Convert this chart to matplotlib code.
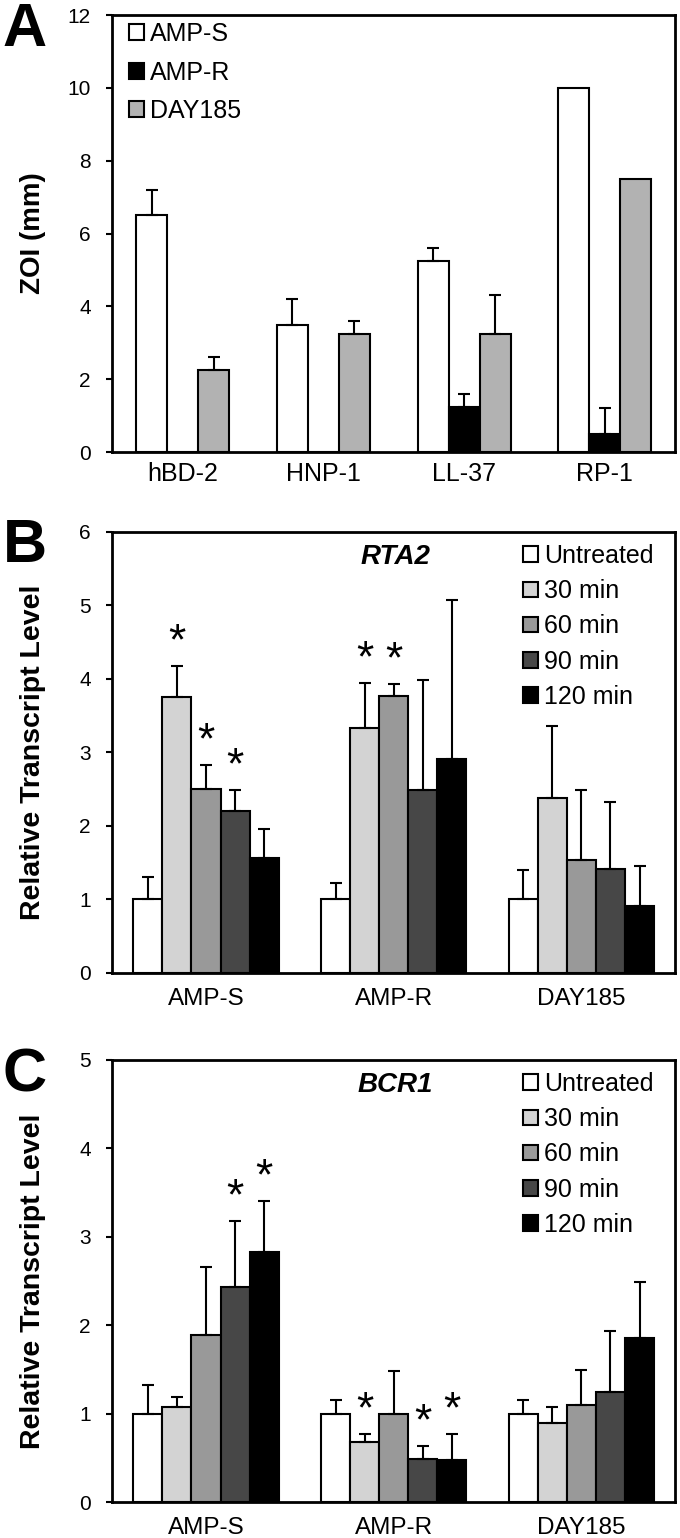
import matplotlib.pyplot as plt
import numpy as np

plt.rcParams['font.family'] = ['Liberation Sans', 'DejaVu Sans']

# panel A data
peptides = ['hBD-2', 'HNP-1', 'LL-37', 'RP-1']
strainsA = ['AMP-S', 'AMP-R', 'DAY185']
zoi = [
    [6.5, 3.5, 5.25, 10.0],
    [0.0, 0.0, 1.25, 0.5],
    [2.25, 3.25, 3.25, 7.5],
]
zoi_err = [
    [0.7, 0.7, 0.35, 0.0],
    [0.0, 0.0, 0.35, 0.7],
    [0.35, 0.35, 1.05, 0.0],
]
colorsA = ['white', 'black', '#b2b2b2']

# panels B and C
strains = ['AMP-S', 'AMP-R', 'DAY185']
times = ['Untreated', '30 min', '60 min', '90 min', '120 min']
colorsT = ['white', '#d3d3d3', '#999999', '#474747', 'black']

rta2 = [
    [1.0, 3.75, 2.5, 2.2, 1.57],
    [1.0, 3.33, 3.77, 2.49, 2.91],
    [1.0, 2.38, 1.53, 1.42, 0.91],
]
rta2_top = [
    [1.3, 4.18, 2.83, 2.49, 1.96],
    [1.22, 3.95, 3.93, 3.98, 5.08],
    [1.4, 3.36, 2.49, 2.33, 1.45],
]
rta2_star = [[1, 2, 3], [1, 2], []]

bcr1 = [
    [1.0, 1.08, 1.89, 2.43, 2.83],
    [1.0, 0.68, 1.0, 0.49, 0.48],
    [1.0, 0.89, 1.1, 1.24, 1.85],
]
bcr1_top = [
    [1.32, 1.19, 2.66, 3.18, 3.4],
    [1.15, 0.77, 1.48, 0.63, 0.77],
    [1.15, 1.07, 1.49, 1.94, 2.49],
]
bcr1_star = [[3, 4], [1, 3, 4], []]

fig = plt.figure(figsize=(6.8, 15.38), dpi=100)


def style(ax, ymax, step, ylabel, lsize, xpad):
    ax.set_ylim(0, ymax)
    ax.set_yticks(range(0, ymax + 1, step))
    ax.tick_params(axis='y', labelsize=15, length=4.5, width=1.5, direction='out', pad=11)
    ax.tick_params(axis='x', labelsize=18, length=0, pad=xpad)
    for s in ax.spines.values():
        s.set_linewidth(2)
    ax.set_ylabel(ylabel, fontsize=lsize, fontweight='bold')
    ax.yaxis.set_label_coords(-0.118, 0.5)


# ---- A ----
axA = fig.add_axes([0.165, 0.7061, 0.828, 0.2841])
x = np.arange(len(peptides))
w = 0.22
for i, s in enumerate(strainsA):
    pos = x + (i - 1) * w
    axA.bar(pos, zoi[i], w, color=colorsA[i], edgecolor='black', linewidth=1.5, label=s, zorder=2)
    err = np.array(zoi_err[i])
    m = err > 0
    axA.errorbar(pos[m], np.array(zoi[i])[m], yerr=[np.zeros(m.sum()), err[m]], fmt='none',
                 ecolor='black', elinewidth=1.5, capsize=4, capthick=1.5, zorder=3)
axA.set_xticks(x)
axA.set_xticklabels(peptides)
axA.set_xlim(-0.5, 3.5)
style(axA, 12, 2, 'ZOI (mm)', 20, 7)
axA.legend(loc='upper left', bbox_to_anchor=(0.03, 0.984), frameon=False, fontsize=18,
           handlelength=0.58, handleheight=0.58, handletextpad=0.25, labelspacing=0.58,
           borderaxespad=0, borderpad=0)
fig.text(0.004, 0.9987, 'A', fontsize=44, fontweight='bold', va='top')


def panel(rect, vals, tops, stars, ymax, gene, letter, ltop):
    ax = fig.add_axes(rect)
    xs = np.arange(len(strains))
    bw = 0.155
    for j, t in enumerate(times):
        pos = xs + (j - 2) * bw
        v = np.array([vals[g][j] for g in range(3)])
        tp = np.array([tops[g][j] for g in range(3)])
        ax.bar(pos, v, bw, color=colorsT[j], edgecolor='black', linewidth=1.5, label=t, zorder=2)
        ax.errorbar(pos, v, yerr=[np.zeros(3), tp - v], fmt='none', ecolor='black',
                    elinewidth=1.5, capsize=4, capthick=1.5, zorder=3)
        for g in range(3):
            if j in stars[g]:
                ax.annotate('*', (pos[g], tp[g]), xytext=(0, 2), textcoords='offset points',
                            ha='center', va='bottom', fontsize=32)
    ax.set_xticks(xs)
    ax.set_xticklabels(strains)
    ax.set_xlim(-0.5, 2.5)
    style(ax, ymax, 1, 'Relative Transcript Level', 20.5, 11)
    ax.tick_params(axis='x', labelsize=17.5)
    ax.text(0.503, 0.943, gene, transform=ax.transAxes, fontsize=20, fontweight='bold',
            style='italic', ha='center', va='center')
    ax.legend(loc='upper left', bbox_to_anchor=(0.73, 0.973), frameon=False, fontsize=18,
              handlelength=0.58, handleheight=0.58, handletextpad=0.25, labelspacing=0.45,
              borderaxespad=0, borderpad=0)
    fig.text(0.004, ltop, letter, fontsize=44, fontweight='bold', va='top')
    return ax


panel([0.165, 0.3674, 0.828, 0.2867], rta2, rta2_top, rta2_star, 6, 'RTA2', 'B', 0.6632)
panel([0.165, 0.0234, 0.828, 0.2874], bcr1, bcr1_top, bcr1_star, 5, 'BCR1', 'C', 0.3192)

fig.savefig('out.png', dpi=100)
